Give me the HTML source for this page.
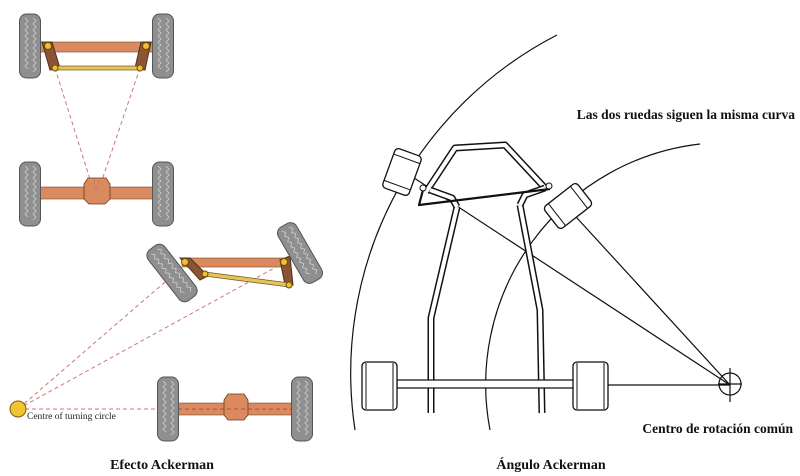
<!DOCTYPE html>
<html><head><meta charset="utf-8"><style>
html,body{margin:0;padding:0;background:#fff;width:800px;height:476px;overflow:hidden}
svg{display:block}
.t{font-family:"Liberation Serif",serif;font-weight:bold;fill:#111}
</style></head><body>
<svg width="800" height="476" viewBox="0 0 800 476" xmlns="http://www.w3.org/2000/svg">
<defs>
<g id="tyre">
<rect x="-10.5" y="-32" width="21" height="64" rx="7" fill="#8f8f8f" stroke="#555" stroke-width="1"/>
<path d="M-5,-28 l3,3 -3,3 3,3 -3,3 3,3 -3,3 3,3 -3,3 3,3 -3,3 3,3 -3,3 3,3 -3,3 3,3 -3,3 3,3 M3,-28 l3,3 -3,3 3,3 -3,3 3,3 -3,3 3,3 -3,3 3,3 -3,3 3,3 -3,3 3,3 -3,3 3,3 -3,3 3,3 -3,3" fill="none" stroke="#cfcfcf" stroke-width="0.8"/>
</g>
<g id="kw">
<rect x="-14" y="-21" width="28" height="42" rx="4" fill="#fff" stroke="#111" stroke-width="1.3"/>
<line x1="-14" y1="-14" x2="14" y2="-14" stroke="#111"/><line x1="-14" y1="14" x2="14" y2="14" stroke="#111"/>
</g>
</defs>

<!-- LEFT TOP -->
<g stroke="#c77" stroke-width="1" stroke-dasharray="4,3" fill="none">
<line x1="55" y1="68" x2="94" y2="192"/><line x1="140" y1="68" x2="98" y2="192"/>
</g>
<rect x="40" y="42" width="113" height="10" fill="#d98a5e" stroke="#7a4a2a" stroke-width="0.6"/>
<path d="M42,42 L52,42 L60,68 L50,70 Z" fill="#8a5535" stroke="#5a3018"/>
<path d="M151,42 L141,42 L135,68 L145,70 Z" fill="#8a5535" stroke="#5a3018"/>
<rect x="55" y="66" width="85" height="4" fill="#e8c35a" stroke="#6a5a20" stroke-width="0.7"/>
<g fill="#f0c030" stroke="#6a4a10"><circle cx="48" cy="46" r="3.5"/><circle cx="146" cy="46" r="3.5"/><circle cx="55" cy="68" r="3"/><circle cx="140" cy="68" r="3"/></g>
<use href="#tyre" x="30" y="46"/><use href="#tyre" x="163" y="46"/>

<rect x="40" y="187" width="113" height="12" fill="#d98a5e" stroke="#7a4a2a" stroke-width="0.6"/>
<path d="M88,178 L106,178 L110,184 L110,199 L105,204 L89,204 L84,199 L84,184 Z" fill="#d98a5e" stroke="#6a3a1a" stroke-width="0.8"/>
<g stroke="#c77" stroke-width="1" stroke-dasharray="4,3"><line x1="94" y1="180" x2="96" y2="195"/><line x1="99" y1="180" x2="96" y2="195"/></g>
<use href="#tyre" x="30" y="194"/><use href="#tyre" x="163" y="194"/>

<!-- LEFT BOTTOM -->
<g stroke="#c77" stroke-width="1" stroke-dasharray="4,3" fill="none">
<line x1="165" y1="282" x2="18" y2="409"/><line x1="285" y1="262" x2="18" y2="409"/><line x1="18" y1="409" x2="292" y2="409"/>
</g>
<rect x="182" y="258" width="105" height="9" fill="#d98a5e" stroke="#7a4a2a" stroke-width="0.6"/>
<path d="M180,258 L190,258 L208,276 L200,280 Z" fill="#8a5535" stroke="#5a3018"/>
<path d="M280,260 L290,256 L293,285 L285,285 Z" fill="#8a5535" stroke="#5a3018"/>
<path d="M205,272 L290,283 L289,287 L204,276 Z" fill="#e8c35a" stroke="#6a5a20" stroke-width="0.7"/>
<g fill="#f0c030" stroke="#6a4a10"><circle cx="185" cy="262" r="3.5"/><circle cx="284" cy="262" r="3.5"/><circle cx="205" cy="274" r="3"/><circle cx="289" cy="285" r="3"/></g>
<use href="#tyre" transform="translate(172,273) rotate(-38)"/>
<use href="#tyre" transform="translate(300,253) rotate(-30)"/>
<rect x="178" y="403" width="114" height="12" fill="#d98a5e" stroke="#7a4a2a" stroke-width="0.6"/>
<path d="M228,394 L244,394 L248,400 L248,415 L244,420 L228,420 L224,415 L224,400 Z" fill="#d98a5e" stroke="#6a3a1a" stroke-width="0.8"/>
<line x1="178" y1="409" x2="292" y2="409" stroke="#c44" stroke-dasharray="4,3"/>
<use href="#tyre" x="168" y="409"/><use href="#tyre" x="302" y="409"/>
<circle cx="18" cy="409" r="8" fill="#f2c530" stroke="#7a5a10"/>
<text x="27" y="419" font-family="Liberation Serif,serif" font-size="9.5" fill="#222">Centre of turning circle</text>
<text x="162" y="469" class="t" font-size="14" text-anchor="middle">Efecto Ackerman</text>

<!-- RIGHT -->
<g fill="none" stroke="#111" stroke-width="1.2">
<path d="M355,430 A380,380 0 0 1 557,35"/>
<path d="M490,430 A242,242 0 0 1 700,144"/>
<line x1="405" y1="172" x2="730" y2="385"/>
<line x1="566" y1="206" x2="730" y2="385"/>
<line x1="598" y1="385" x2="730" y2="385"/>
<circle cx="730" cy="384" r="11"/>
<line x1="730" y1="368" x2="730" y2="402"/><line x1="718" y1="384" x2="742" y2="384"/>
</g>
<!-- frame -->
<g fill="none" stroke-linejoin="round" stroke-linecap="butt">
<path d="M431,413 L431,318 L457,207 M426,192 L455,148 L505,145 L545,188 M520,205 L540,310 L542,413" stroke="#111" stroke-width="7"/>
<path d="M431,413 L431,318 L457,207 M426,192 L455,148 L505,145 L545,188 M520,205 L540,310 L542,413" stroke="#fff" stroke-width="4"/>
<path d="M457,207 L452,198 L430,190 M520,205 L525,195 L545,188" stroke="#111" stroke-width="7"/>
<path d="M457,207 L452,198 L430,190 M520,205 L525,195 L545,188" stroke="#fff" stroke-width="4"/>
<rect x="397" y="380" width="177" height="8" fill="#fff" stroke="#111" stroke-width="1.2"/>
<path d="M423,190 L419,205 L550,189" stroke="#111" stroke-width="2.2"/>
</g>
<rect x="362" y="362" width="35" height="48" rx="4" fill="#fff" stroke="#111" stroke-width="1.3"/>
<line x1="366" y1="363" x2="366" y2="409" stroke="#111"/><line x1="393" y1="363" x2="393" y2="409" stroke="#111"/>
<rect x="573" y="362" width="35" height="48" rx="4" fill="#fff" stroke="#111" stroke-width="1.3"/>
<line x1="577" y1="363" x2="577" y2="409" stroke="#111"/><line x1="604" y1="363" x2="604" y2="409" stroke="#111"/>
<use href="#kw" transform="translate(402,172) rotate(20)"/>
<use href="#kw" transform="translate(568,206) rotate(52)"/>
<g fill="#fff" stroke="#111"><circle cx="423" cy="188" r="3"/><circle cx="549" cy="186" r="3"/></g>
<text x="795" y="119" class="t" font-size="13.5" text-anchor="end">Las dos ruedas siguen la misma curva</text>
<text x="793" y="433" class="t" font-size="13.5" text-anchor="end">Centro de rotación común</text>
<text x="551" y="469" class="t" font-size="14" text-anchor="middle">Ángulo Ackerman</text>
</svg>
</body></html>
